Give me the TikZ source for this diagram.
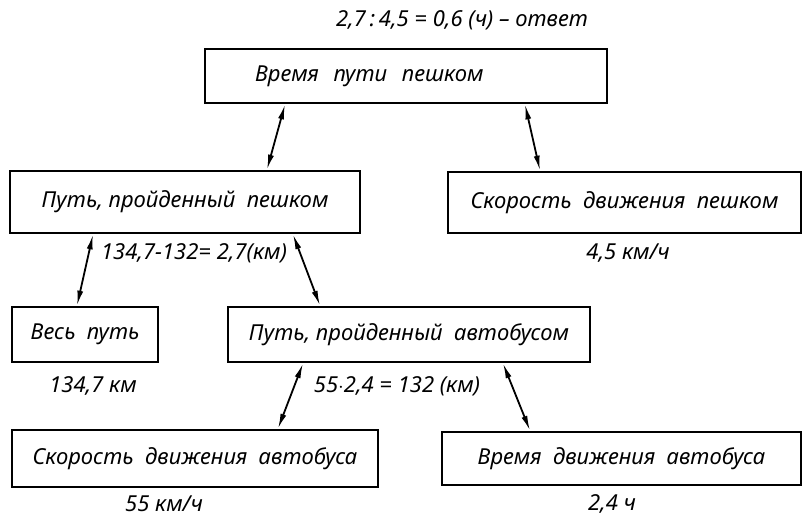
\documentclass[tikz,border=0pt]{standalone}
\usepackage{fontspec}
\setmainfont{Noto Sans}
\usetikzlibrary{arrows.meta}
\tikzset{
  box/.style={draw, line width=2.8pt, rectangle, inner sep=0pt},
  lbl/.style={inner sep=0pt},
  link/.style={{Latex[length=15pt,width=6pt]}-{Latex[length=15pt,width=6pt]}, line width=1.8pt}
}
\begin{document}
\begin{tikzpicture}[x=1pt, y=-1pt, font=\itshape\fontsize{22}{26}\selectfont]
    \useasboundingbox (0,0) rectangle (803,520);

    % Boxes
    \node[box, minimum width=402pt, minimum height=54pt, text width=302pt, align=left, inner xsep=50pt] (b1) at (406,76) {Время\ \ пути\ \ пешком};
    \node[box, minimum width=350pt, minimum height=62pt] (b2) at (185,202) {Путь, пройденный\ \ пешком};
    \node[box, minimum width=353pt, minimum height=61pt] (b3) at (624.5,202.5) {Скорость\ \ движения\ \ пешком};
    \node[box, minimum width=146pt, minimum height=55pt] (b4) at (85,334.5) {Весь\ \ путь};
    \node[box, minimum width=362pt, minimum height=55pt] (b5) at (409,334.5) {Путь, пройденный\ \ автобусом};
    \node[box, minimum width=366pt, minimum height=57pt] (b6) at (195,458.5) {Скорость\ \ движения\ \ автобуса};
    \node[box, minimum width=359pt, minimum height=53pt] (b7) at (621.5,458.5) {Время\ \ движения\ \ автобуса};

    % Values
    \node[lbl] (answer) at (462,20) {2,7\,:\,4,5 = 0,6 (ч) -- ответ};
    \node[lbl] (walked) at (194,253) {134,7-132= 2,7(км)};
    \node[lbl] (speedw) at (628,253) {4,5 км/ч};
    \node[lbl] (total) at (93,386) {134,7 км};
    \node[lbl] (bus) at (397,386) {55$\cdot$2,4 = 132 (км)};
    \node[lbl] (speedb) at (164,504) {55 км/ч};
    \node[lbl] (timeb) at (612,504) {2,4 ч};

    % Links
    \draw[link] ([xshift=-121pt]b1.south) -- ([xshift=82pt]b2.north);
    \draw[link] ([xshift=119pt]b1.south) -- ([xshift=-84.5pt]b3.north);
    \draw[link] ([xshift=-92pt]b2.south) -- ([xshift=-8pt]b4.north);
    \draw[link] ([xshift=108pt]b2.south) -- ([xshift=-89pt]b5.north);
    \draw[link] ([xshift=-106pt]b5.south) -- ([xshift=83pt]b6.north);
    \draw[link] ([xshift=94pt]b5.south) -- ([xshift=-91.5pt]b7.north);
\end{tikzpicture}
\end{document}
